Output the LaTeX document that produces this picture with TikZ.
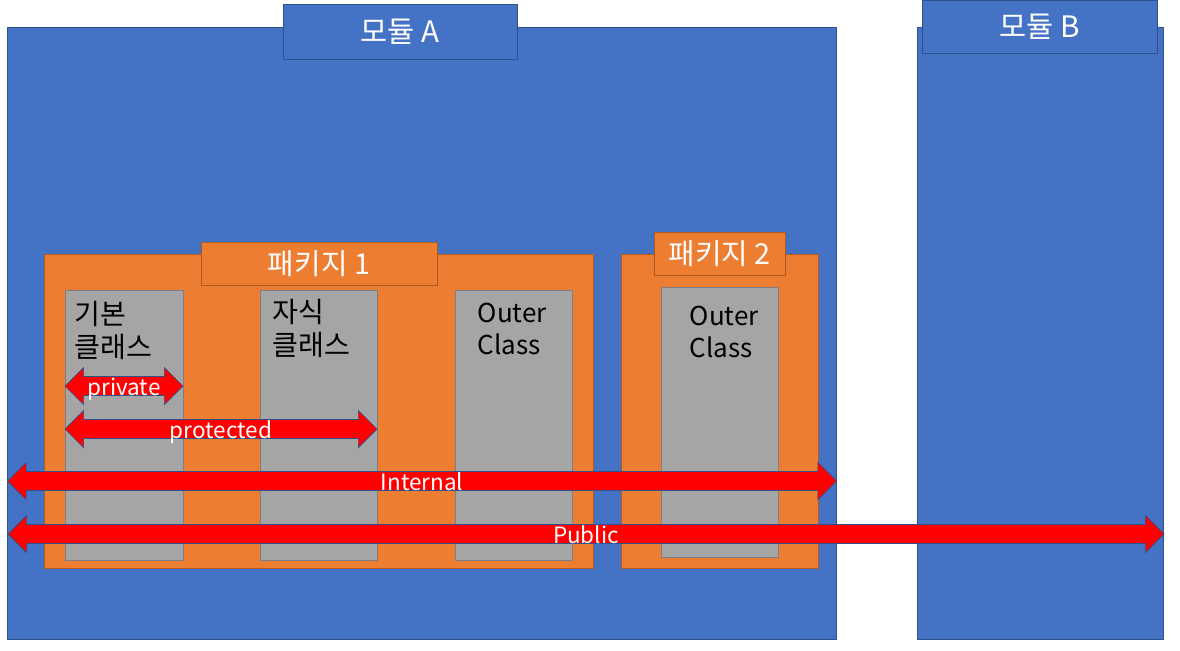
\documentclass[tikz,border=0pt]{standalone}
\usepackage{fontspec}
\setmainfont{Noto Sans CJK KR}
\usetikzlibrary{shapes.arrows}

\definecolor{modblue}{HTML}{4472C4}
\definecolor{modedge}{HTML}{2F528F}
\definecolor{pkgorange}{HTML}{ED7D31}
\definecolor{pkgedge}{HTML}{AE5A21}
\definecolor{clsgray}{HTML}{A5A5A5}
\definecolor{clsedge}{HTML}{7C7F8A}
\definecolor{accred}{HTML}{FF0000}

\newcommand\pxu{0.025cm}

\begin{document}
\begin{tikzpicture}[
  x=0.025cm, y=-0.025cm,
  modbox/.style={draw=modedge, fill=modblue, line width=0.6pt, inner sep=0pt},
  modtitle/.style={modbox, text=white, font=\fontsize{21}{25}\selectfont},
  pkgbox/.style={draw=pkgedge, fill=pkgorange, line width=0.6pt, inner sep=0pt},
  pkgtitle/.style={pkgbox, text=white, font=\fontsize{20.5}{25}\selectfont},
  clsbox/.style={draw=clsedge, fill=clsgray, line width=0.6pt, inner sep=0pt},
  clstext/.style={anchor=north west, inner sep=0pt, align=left, font=\fontsize{20}{23.5}\selectfont},
  clsouter/.style={clstext, font=\fontsize{18.5}{23}\selectfont},
  accarrow/.style={double arrow, draw=modedge, line width=0.5pt, fill=accred, text=white,
    font=\fontsize{16}{16}\selectfont, inner sep=0pt, text height=13pt, text depth=0pt,
    double arrow head extend=6.5pt, double arrow tip angle=90, double arrow head indent=0pt}
]
\useasboundingbox (0,0) rectangle (1180,651);

% modules
\node[modbox, minimum width=829*\pxu, minimum height=612*\pxu] (modA) at (421.5,333) {};
\node[modbox, minimum width=246*\pxu, minimum height=612*\pxu] (modB) at (1040,333) {};
\node[modtitle, minimum width=234*\pxu, minimum height=55*\pxu] (titleA) at (400,31.5) {모듈 A};
\node[modtitle, minimum width=235*\pxu, minimum height=53*\pxu] (titleB) at (1039.5,26.5) {모듈 B};

% packages
\node[pkgbox, minimum width=549*\pxu, minimum height=314*\pxu] (pkgA) at (318.5,411) {};
\node[pkgbox, minimum width=197*\pxu, minimum height=314*\pxu] (pkgB) at (719.5,411) {};
\node[pkgtitle, minimum width=236*\pxu, minimum height=43*\pxu] (ptitleA) at (319,263.5) {패키지 1};
\node[pkgtitle, minimum width=131*\pxu, minimum height=43*\pxu] (ptitleB) at (719.5,253.5) {패키지 2};

% classes
\node[clsbox, minimum width=118*\pxu, minimum height=270*\pxu] (base) at (124,425) {};
\node[clsbox, minimum width=117*\pxu, minimum height=270*\pxu] (child) at (318.5,425) {};
\node[clsbox, minimum width=117*\pxu, minimum height=270*\pxu] (outerA) at (513.5,425) {};
\node[clsbox, minimum width=117*\pxu, minimum height=270*\pxu] (outerB) at (719.5,422) {};

\node[clstext] (baseLbl) at ([shift={(10,11)}]base.north west) {기본\\클래스};
\node[clstext] (childLbl) at ([shift={(13,9)}]child.north west) {자식\\클래스};
\node[clsouter] (outerALbl) at ([shift={(23,13)}]outerA.north west) {Outer\\Class};
\node[clsouter] (outerBLbl) at ([shift={(29,19)}]outerB.north west) {Outer\\Class};

% access scopes
\node[accarrow, minimum height=118*\pxu] (private) at (124,386) {private};
\node[accarrow, minimum height=312*\pxu] (protected) at (221,429) {protected};
\node[accarrow, minimum height=829*\pxu] (internal) at (422,481) {Internal};
\node[accarrow, minimum height=1156*\pxu] (public) at (586,534) {Public};
\end{tikzpicture}
\end{document}
